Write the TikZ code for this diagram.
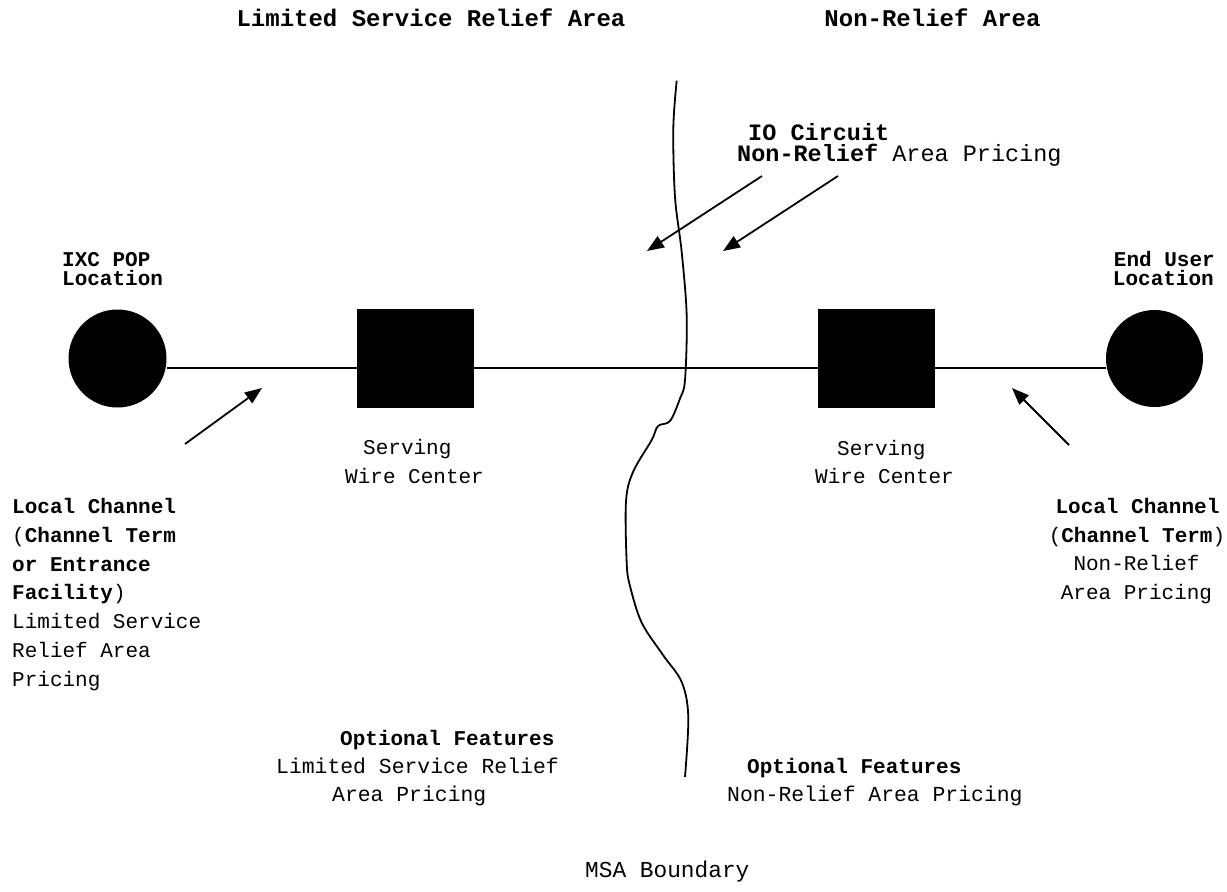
\documentclass[tikz,border=0pt]{standalone}
\usepackage{fontspec}
\setmainfont{Liberation Mono}
\usetikzlibrary{arrows.meta}
\begin{document}
\begin{tikzpicture}[x=1pt,y=-1pt,
  txt/.style={inner sep=0,anchor=base west,font=\fontsize{21}{25}\selectfont},
  txtc/.style={inner sep=0,anchor=base,font=\fontsize{21}{25}\selectfont},
  txte/.style={inner sep=0,anchor=base east,font=\fontsize{21}{25}\selectfont},
  opt/.style={inner sep=0,anchor=base west,font=\fontsize{21.4}{25}\selectfont},
  big/.style={inner sep=0,anchor=base west,font=\fontsize{23.5}{25}\selectfont},
  ttl/.style={inner sep=0,anchor=base,font=\fontsize{24}{28}\selectfont\bfseries},
  site/.style={circle,fill=black,draw=none,minimum size=98pt,inner sep=0},
  wire/.style={rectangle,fill=black,draw=none,minimum width=117pt,minimum height=99pt,inner sep=0},
  conn/.style={line width=1.6pt},
  arr/.style={line width=1.8pt,-{Triangle[length=17pt,width=13pt]}},
  bound/.style={line width=1.8pt}]
\useasboundingbox (0,0) rectangle (1227,892);

% titles
\node[ttl] (t1) at (431,26) {Limited Service Relief Area};
\node[ttl] (t2) at (932.5,26) {Non-Relief Area};

% sites and wire centers
\node[site] (c1) at (117.5,358.5) {};
\node[site,minimum size=97pt] (c2) at (1154.5,358.5) {};
\node[wire] (s1) at (415.5,358.5) {};
\node[wire] (s2) at (876.5,358.5) {};

% main line
\draw[conn] ([yshift=-9.5pt]c1.east) -- ([yshift=-9.5pt]s1.west);
\draw[conn] ([yshift=-9.5pt]s1.east) -- ([yshift=-9.5pt]s2.west);
\draw[conn] ([yshift=-9.5pt]s2.east) -- ([yshift=-9.5pt]c2.west);

% MSA boundary
\draw[bound] plot[smooth,tension=0.55] coordinates {(676.7,80.6) (673.3,128.6) (675,197) (681.7,252) (686.7,316) (685,380) (680,398.5) (670,421) (658,426) (651.7,440) (633,472) (626,501.5) (626.7,563) (630,586) (641.7,622.7) (663,655) (681.7,682) (688.3,716.5) (685,777)};

% labels of sites
\node[txt,font=\fontsize{21}{25}\selectfont\bfseries] (ixc1) at (62,266) {IXC POP};
\node[txt,font=\fontsize{21}{25}\selectfont\bfseries] (ixc2) at (62,285) {Location};
\node[txte,font=\fontsize{21}{25}\selectfont\bfseries] (eu1) at (1215,266) {End User};
\node[txte,font=\fontsize{21}{25}\selectfont\bfseries] (eu2) at (1214,285) {Location};

% serving wire centers
\node[txt] (sw1a) at (363,454) {Serving};
\node[txt] (sw1b) at (345,483) {Wire Center};
\node[txt] (sw2a) at (837,455) {Serving};
\node[txt] (sw2b) at (815,483) {Wire Center};

% IO circuit
\node[big,font=\fontsize{23.5}{25}\selectfont\bfseries] (io1) at (748,140) {IO Circuit};
\node[big] (io2) at (737,161) {\textbf{Non-Relief} Area Pricing};
\coordinate (io1tail) at (762,176);
\coordinate (io1tip) at (647,251);
\coordinate (io2tail) at (838,176);
\coordinate (io2tip) at (723,251);
\draw[arr] (io1tail) -- (io1tip);
\draw[arr] (io2tail) -- (io2tip);

% left local channel
\node[txt] (l1) at (12,513) {\textbf{Local Channel}};
\node[txt] (l2) at (12,542) {(\textbf{Channel Term}};
\node[txt] (l3) at (12,571) {\textbf{or Entrance}};
\node[txt] (l4) at (12,599) {\textbf{Facility})};
\node[txt] (l5) at (12,628) {Limited Service};
\node[txt] (l6) at (12,657) {Relief Area};
\node[txt] (l7) at (12,686) {Pricing};
\coordinate (latail) at (185,444);
\coordinate (latip) at (262,388);
\draw[arr] (latail) -- (latip);

% right local channel
\node[txtc] (r1) at (1137.5,513) {\textbf{Local Channel}};
\node[txtc] (r2) at (1137,542) {(\textbf{Channel Term})};
\node[txtc] (r3) at (1136.5,570) {Non-Relief};
\node[txtc] (r4) at (1136.5,599) {Area Pricing};
\coordinate (ratail) at (1069,445);
\coordinate (ratip) at (1012,388);
\draw[arr] (ratail) -- (ratip);

% optional features
\node[opt,font=\fontsize{21}{25}\selectfont\bfseries] (o1) at (340,745) {Optional Features};
\node[opt] (o2) at (276,773) {Limited Service Relief};
\node[opt] (o3) at (332,801) {Area Pricing};
\node[opt,font=\fontsize{21}{25}\selectfont\bfseries] (o4) at (747,773) {Optional Features};
\node[opt] (o5) at (727,801) {Non-Relief Area Pricing};

% MSA boundary label
\node[txt,font=\fontsize{22.8}{25}\selectfont] (msa) at (585,877) {MSA Boundary};
\end{tikzpicture}
\end{document}
